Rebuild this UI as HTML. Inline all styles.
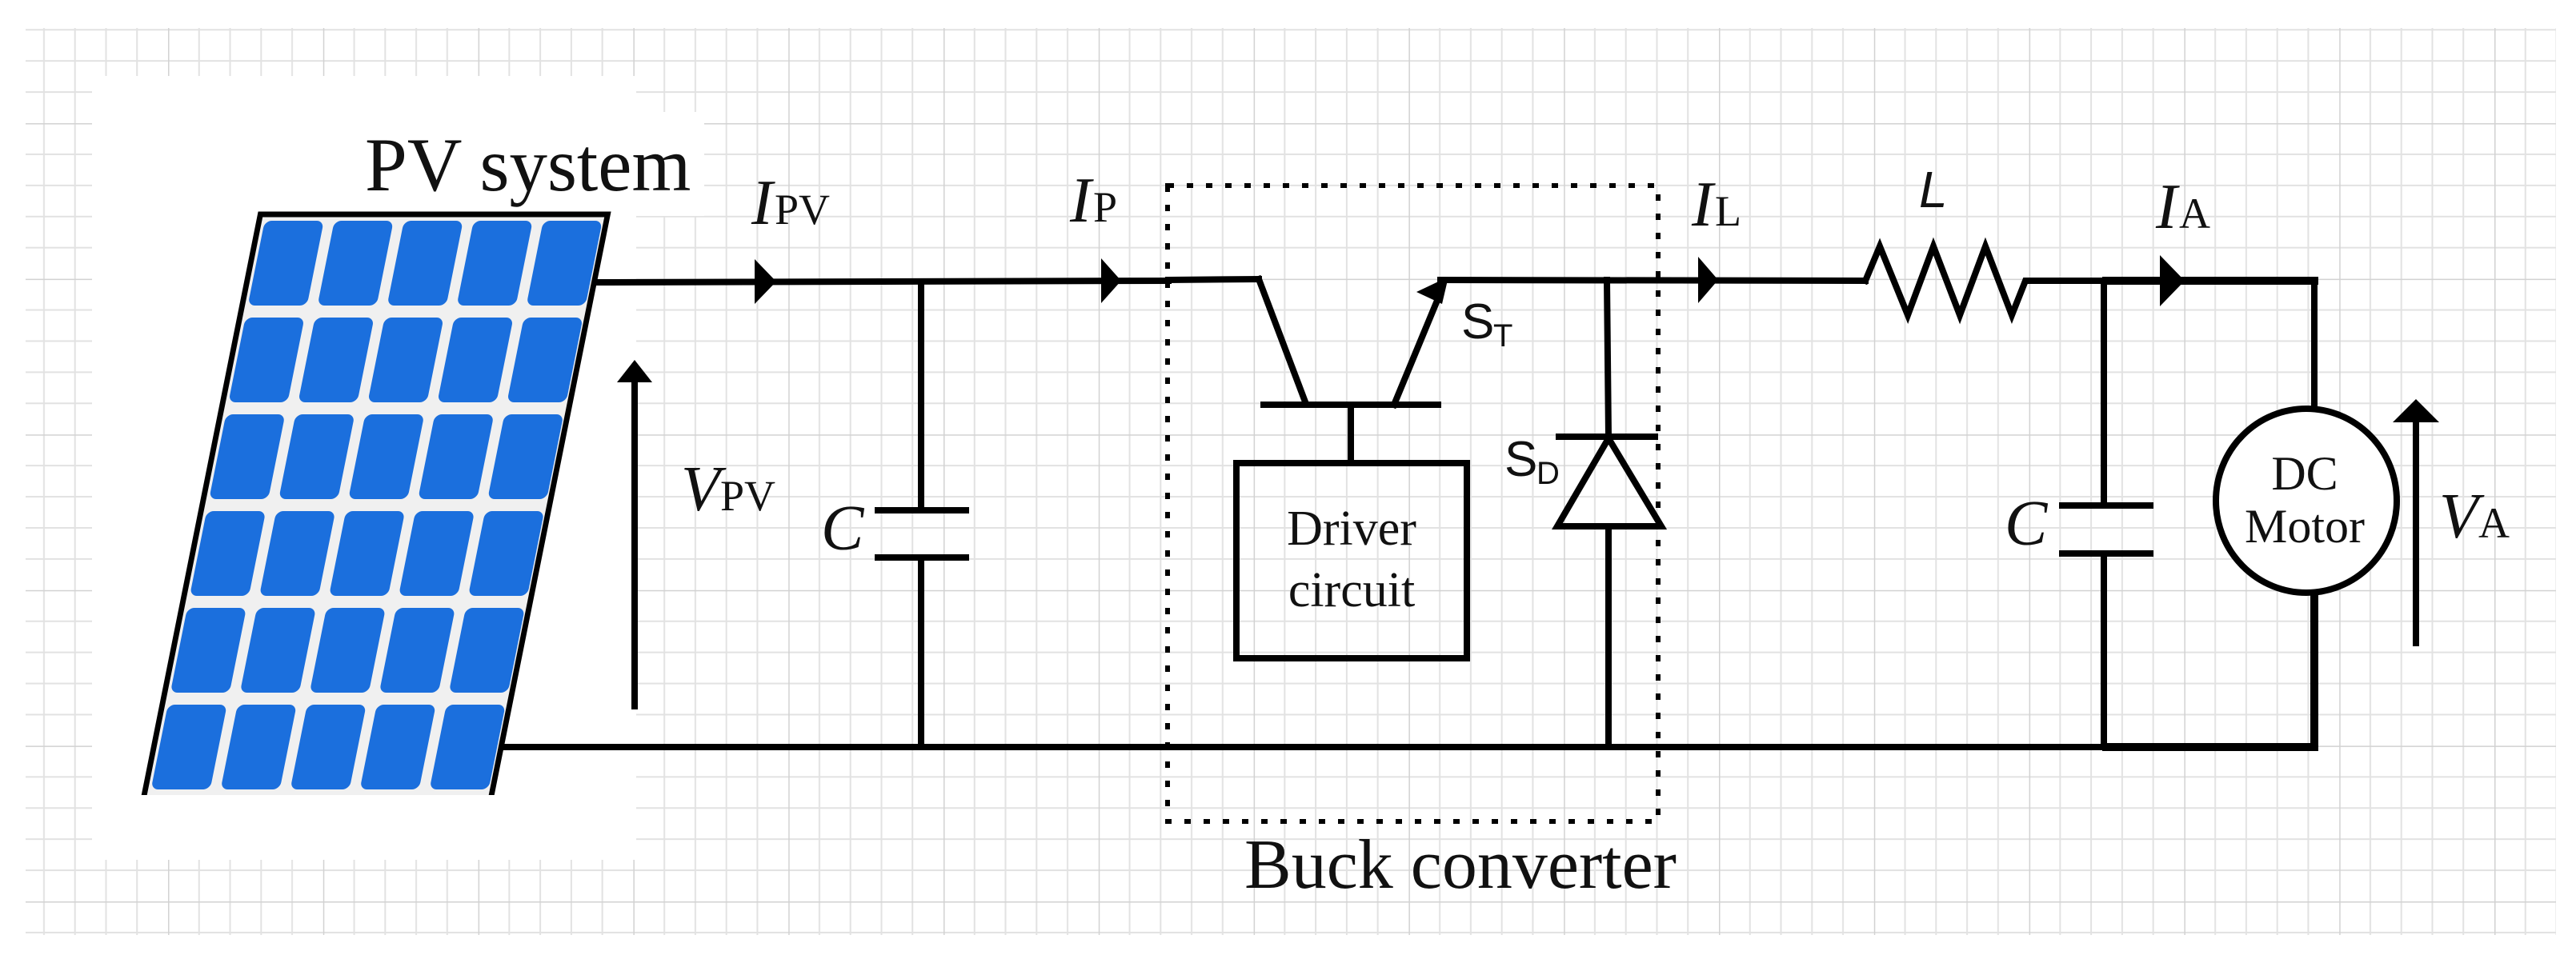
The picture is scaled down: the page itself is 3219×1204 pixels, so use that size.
<!DOCTYPE html>
<html><head><meta charset="utf-8"><style>html,body{margin:0;padding:0;background:#fff}svg{display:block}</style></head>
<body>
<svg width="3219" height="1204" viewBox="0 0 3219 1204" xmlns="http://www.w3.org/2000/svg">
<defs>
<pattern id="g" patternUnits="userSpaceOnUse" x="210" y="154" width="193.8" height="194.6">
<g stroke="#e2e2e2" stroke-width="2">
<line x1="38.76" y1="0" x2="38.76" y2="194.6"/><line x1="77.52" y1="0" x2="77.52" y2="194.6"/>
<line x1="116.28" y1="0" x2="116.28" y2="194.6"/><line x1="155.04" y1="0" x2="155.04" y2="194.6"/>
<line y1="38.92" x1="0" y2="38.92" x2="193.8"/><line y1="77.84" x1="0" y2="77.84" x2="193.8"/>
<line y1="116.76" x1="0" y2="116.76" x2="193.8"/><line y1="155.68" x1="0" y2="155.68" x2="193.8"/>
</g>
<g stroke="#d2d2d2" stroke-width="3"><line x1="0" y1="0" x2="0" y2="194.6"/><line x1="0" y1="0" x2="193.8" y2="0"/></g>
</pattern>
</defs>
<rect x="32" y="35" width="3162" height="1134" fill="url(#g)"/>
<rect x="115" y="95" width="680" height="980" fill="#fff"/>
<rect x="440" y="140" width="440" height="130" fill="#fff"/>

<!-- PV panel -->
<g transform="matrix(1,0,-0.2,1,0,0)">
<rect x="379" y="268" width="434" height="726" fill="#f0f0f0"/>
<g fill="#1b6fdd">
<rect x="386" y="276" width="74" height="106" rx="9"/><rect x="473" y="276" width="74" height="106" rx="9"/><rect x="560" y="276" width="74" height="106" rx="9"/><rect x="647" y="276" width="74" height="106" rx="9"/><rect x="734" y="276" width="74" height="106" rx="9"/>
<rect x="386" y="397" width="74" height="106" rx="9"/><rect x="473" y="397" width="74" height="106" rx="9"/><rect x="560" y="397" width="74" height="106" rx="9"/><rect x="647" y="397" width="74" height="106" rx="9"/><rect x="734" y="397" width="74" height="106" rx="9"/>
<rect x="386" y="518" width="74" height="106" rx="9"/><rect x="473" y="518" width="74" height="106" rx="9"/><rect x="560" y="518" width="74" height="106" rx="9"/><rect x="647" y="518" width="74" height="106" rx="9"/><rect x="734" y="518" width="74" height="106" rx="9"/>
<rect x="386" y="639" width="74" height="106" rx="9"/><rect x="473" y="639" width="74" height="106" rx="9"/><rect x="560" y="639" width="74" height="106" rx="9"/><rect x="647" y="639" width="74" height="106" rx="9"/><rect x="734" y="639" width="74" height="106" rx="9"/>
<rect x="386" y="760" width="74" height="106" rx="9"/><rect x="473" y="760" width="74" height="106" rx="9"/><rect x="560" y="760" width="74" height="106" rx="9"/><rect x="647" y="760" width="74" height="106" rx="9"/><rect x="734" y="760" width="74" height="106" rx="9"/>
<rect x="386" y="881" width="74" height="106" rx="9"/><rect x="473" y="881" width="74" height="106" rx="9"/><rect x="560" y="881" width="74" height="106" rx="9"/><rect x="647" y="881" width="74" height="106" rx="9"/><rect x="734" y="881" width="74" height="106" rx="9"/>
</g>
<polyline points="379,994 379,268 813,268 813,994" fill="none" stroke="#000" stroke-width="7"/>
</g>

<g font-family="Liberation Serif, serif" fill="#111">
<text x="456" y="238" font-size="95">PV system</text>
</g>

<g stroke="#000" stroke-width="8" fill="none" stroke-linecap="square">
<line x1="746" y1="353" x2="1460" y2="351"/>
<line x1="1460" y1="350" x2="1573" y2="349"/>
<polyline points="1573,349 1632,505"/>
<line x1="1579" y1="506" x2="1797" y2="506"/>
<line x1="1742" y1="506" x2="1795" y2="378"/>
<line x1="1800" y1="350" x2="2331" y2="351"/>
<polyline points="2331,351 2349,308 2384,394 2416,308 2449,394 2481,308 2514,394 2531,351 2892,351 2892,511"/>
<line x1="2632" y1="351" x2="2892" y2="351" stroke-width="10"/>
<line x1="628" y1="934" x2="2632" y2="934"/>
<polyline points="2632,934 2892,934 2892,741" stroke-width="10"/>
<line x1="1151" y1="352" x2="1151" y2="638"/>
<line x1="1151" y1="697" x2="1151" y2="934"/>
<line x1="1097" y1="638" x2="1207" y2="638"/>
<line x1="1097" y1="697" x2="1207" y2="697"/>
<line x1="2629" y1="351" x2="2629" y2="632"/>
<line x1="2629" y1="692" x2="2629" y2="934"/>
<line x1="2577" y1="632" x2="2687" y2="632"/>
<line x1="2577" y1="692" x2="2687" y2="692"/>
<line x1="1688" y1="506" x2="1688" y2="579"/>
<rect x="1545" y="579" width="288" height="244"/>
<line x1="2008" y1="350" x2="2010" y2="546"/>
<line x1="1948" y1="546" x2="2068" y2="546"/>
<polygon points="2010,548 1946,658 2076,658" stroke-linejoin="miter"/>
<line x1="2010" y1="658" x2="2010" y2="934"/>
<ellipse cx="2882" cy="626" rx="113" ry="115" fill="#fff"/>
<line x1="793" y1="883" x2="793" y2="470"/>
<line x1="3019" y1="804" x2="3019" y2="520"/>
</g>

<rect x="1459" y="232" width="613" height="795" fill="none" stroke="#000" stroke-width="6" stroke-dasharray="8 16"/>

<g fill="#000">
<polygon points="970,352 943,324 943,380"/>
<polygon points="1401,351 1376,323 1376,379"/>
<polygon points="2147,350 2122,321 2122,379"/>
<polygon points="2730,351 2699,319 2699,383"/>
<polygon points="1810,346 1770,365 1802,380"/>
<polygon points="793,450 771,478 815,478"/>
<polygon points="3019,499 2990,528 3048,528"/>
</g>

<g font-family="Liberation Serif, serif" fill="#111">
<text x="939" y="280" font-size="80" font-style="italic">I</text><text x="968" y="280" font-size="54">PV</text>
<text x="1337" y="277" font-size="80" font-style="italic">I</text><text x="1366" y="277" font-size="54">P</text>
<text x="2114" y="282" font-size="80" font-style="italic">I</text><text x="2143" y="282" font-size="54">L</text>
<text x="2694" y="285" font-size="80" font-style="italic">I</text><text x="2723" y="285" font-size="54">A</text>
<text x="851" y="638" font-size="80" font-style="italic">V</text><text x="900" y="638" font-size="54">PV</text>
<text x="3048" y="672" font-size="80" font-style="italic">V</text><text x="3097" y="672" font-size="54">A</text>
<text x="1026" y="687" font-size="80" font-style="italic">C</text>
<text x="2505" y="681" font-size="80" font-style="italic">C</text>
<text x="1689" y="681" font-size="62" text-anchor="middle">Driver</text>
<text x="1689" y="758" font-size="62" text-anchor="middle">circuit</text>
<text x="2880" y="612" font-size="60" text-anchor="middle">DC</text>
<text x="2880" y="678" font-size="60" text-anchor="middle" textLength="150" lengthAdjust="spacingAndGlyphs">Motor</text>
<text x="1555" y="1110" font-size="88">Buck converter</text>
</g>
<g font-family="Liberation Sans, sans-serif" fill="#111">
<text x="1826" y="423" font-size="62">S</text><text x="1866" y="433" font-size="40">T</text>
<text x="1880" y="595" font-size="62">S</text><text x="1920" y="605" font-size="40">D</text>
<text x="2398" y="259" font-size="64" font-style="italic">L</text>
</g>
</svg>
</body></html>
